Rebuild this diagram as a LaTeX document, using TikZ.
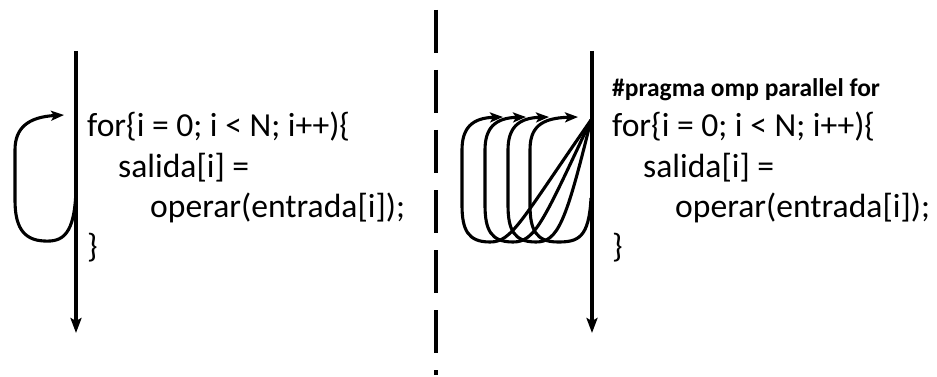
\documentclass[tikz,border=0pt]{standalone}
\usepackage{fontspec}
\setmainfont{Carlito}
\usetikzlibrary{arrows.meta}
\newcommand\mycodefont{\fontsize{33.6}{40}\selectfont}
\newcommand\mypragmafont{\bfseries\fontsize{25.5}{30}\selectfont}
\begin{document}
\begin{tikzpicture}[x=1pt,y=-1pt,
  mainline/.style={line width=4pt,-{Stealth[length=15pt,width=11pt,inset=3pt]}},
  loopline/.style={line width=3.1pt,-{Stealth[length=13pt,width=10pt,inset=3pt]}},
  divider/.style={line width=4.5pt,dash pattern=on 43pt off 17pt},
  code/.style={anchor=base west,inner sep=0pt,font=\mycodefont},
  pragma/.style={anchor=base west,inner sep=0pt,font=\mypragmafont}]
\useasboundingbox (0,0) rectangle (937,377);
% divider
\coordinate (dtop) at (436,10);
\coordinate (dbot) at (436,375);
\draw[divider] (dtop) -- (dbot);
% left panel
\coordinate (ltop) at (76,51);
\coordinate (lbot) at (76,333);
\draw[mainline] (ltop) -- (lbot);
\coordinate (lstart) at (76,188);
\coordinate (lend) at (64,115);
\draw[loopline] (lstart) .. controls (75,236) and (62,242) .. (44,241)
  .. controls (22,240) and (15,225) .. (15,200) -- (15,150)
  .. controls (15,128) and (28,117) .. (lend);
\node[code] (l1) at (87,137) {for\{i = 0; i < N; i++)\{};
\node[code] (l2) at (118,177) {salida[i] =};
\node[code] (l3) at (150,217) {operar(entrada[i]);};
\node[code] (l4) at (87,257) {\}};
% right panel
\coordinate (rtop) at (592,51);
\coordinate (rbot) at (592,333);
\draw[mainline] (rtop) -- (rbot);
\coordinate (conv) at (591,120);
\foreach \xl in {462,485,508}{
  \draw[loopline] (conv) .. controls (\xl+58,222) and (\xl+50,242) .. (\xl+28,242)
    .. controls (\xl+6,242) and (\xl,230) .. (\xl,205) -- (\xl,150)
    .. controls (\xl,128) and (\xl+10,118) .. (\xl+41,117);
}
\coordinate (rstart) at (591,198);
\draw[loopline] (rstart) .. controls (589,238) and (578,242) .. (558,242)
  .. controls (536,242) and (530,230) .. (530,205) -- (530,150)
  .. controls (530,128) and (540,118) .. (578,117);
\node[pragma] (p) at (612,97) {\#pragma omp parallel for};
\node[code] (r1) at (612,137) {for\{i = 0; i < N; i++)\{};
\node[code] (r2) at (643,177) {salida[i] =};
\node[code] (r3) at (675,217) {operar(entrada[i]);};
\node[code] (r4) at (612,257) {\}};
\end{tikzpicture}
\end{document}
